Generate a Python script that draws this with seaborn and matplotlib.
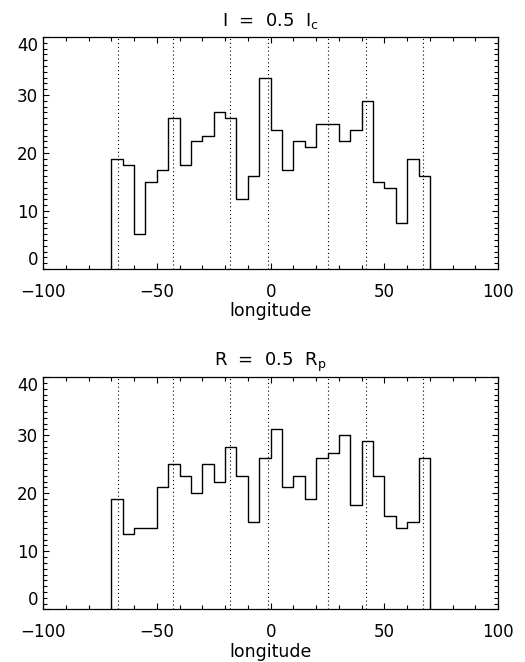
import numpy as np
import pandas as pd
import seaborn as sns
import matplotlib
matplotlib.use("Agg")
import matplotlib.pyplot as plt
from matplotlib.ticker import MultipleLocator

# bin edges (width 5, from -70 to 70) and counts
edges = list(range(-70, 71, 5))
counts_I = [19, 18, 6, 15, 17, 26, 18, 22, 23, 27, 26, 12, 16, 33,
            24, 17, 22, 21, 25, 25, 22, 24, 29, 15, 14, 8, 19, 16]
counts_R = [19, 13, 14, 14, 21, 25, 23, 20, 25, 22, 28, 23, 15, 26,
            31, 21, 23, 19, 26, 27, 30, 18, 29, 23, 16, 14, 15, 26]
# dotted reference longitudes
ref_lon = [-67, -43, -18, -1, 25, 42, 67]
titles = [r"I  =  0.5  I$_{\mathrm{c}}$", r"R  =  0.5  R$_{\mathrm{p}}$"]

sns.set_style("ticks")
plt.rcParams['font.family'] = ['DejaVu Sans']
plt.rcParams['mathtext.default'] = 'regular'
for k in ['text.color', 'axes.labelcolor', 'xtick.color', 'ytick.color',
          'axes.edgecolor']:
    plt.rcParams[k] = 'black'

fig = plt.figure(figsize=(5.25, 6.62), dpi=100)
ax1 = fig.add_axes([0.082, 0.5937, 0.867, 0.3505])
ax2 = fig.add_axes([0.082, 0.0796, 0.867, 0.3505])

centers = [(a + b) / 2 for a, b in zip(edges[:-1], edges[1:])]
for ax, counts, title in zip([ax1, ax2], [counts_I, counts_R], titles):
    df = pd.DataFrame({"lon": centers, "n": counts})
    sns.histplot(data=df, x="lon", weights="n", bins=edges, element="step",
                 fill=False, color="black", linewidth=1.0, ax=ax)
    # close the outline down to zero at both ends
    ax.vlines([edges[0], edges[-1]], 0, [counts[0], counts[-1]],
              color="black", linewidth=1.0)
    for x in ref_lon:
        ax.axvline(x, color="black", linestyle=(0, (1, 2.5)), linewidth=0.8)
    ax.set_xlim(-100, 100)
    ax.set_ylim(0, 40)
    ax.xaxis.set_major_locator(MultipleLocator(50))
    ax.xaxis.set_minor_locator(MultipleLocator(10))
    ax.yaxis.set_major_locator(MultipleLocator(10))
    ax.yaxis.set_minor_locator(MultipleLocator(1))
    ax.tick_params(which="both", direction="in", top=True, right=True,
                   labelsize=12, width=0.8)
    ax.tick_params(axis="x", which="major", pad=10)
    ax.tick_params(which="major", length=4.5)
    ax.tick_params(which="minor", length=3)
    for s in ax.spines.values():
        s.set_linewidth(0.9)
    # IDL-like placement of the end labels
    ylabels = ax.get_yticklabels()
    fig.canvas.draw()
    for lab in ax.get_yticklabels():
        if lab.get_text() == "0":
            lab.set_va("bottom")
        elif lab.get_text() == "40":
            lab.set_va("top")
    ax.set_title(title, fontsize=13, pad=8)
    ax.set_xlabel("longitude", fontsize=12.5, labelpad=1)
    ax.set_ylabel("")

fig.savefig("out.png", dpi=100)
